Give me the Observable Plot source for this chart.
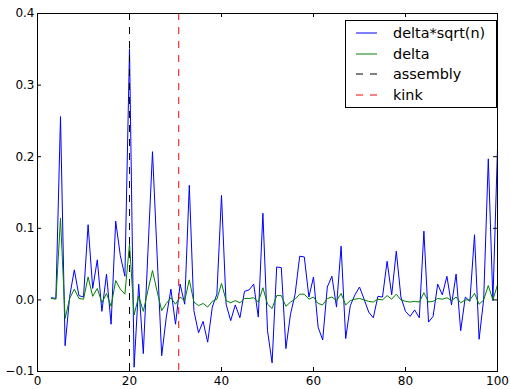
<!DOCTYPE html>
<html><head><meta charset="utf-8">
<script src="https://cdn.jsdelivr.net/npm/d3@7"></script>
<script src="https://cdn.jsdelivr.net/npm/@observablehq/plot@0.6"></script>
<style>body{margin:0;background:#fff} #chart{width:510px;height:389px}</style>
</head><body><div id="chart"></div>
<script>
// sample index n = 3 .. 100
const nValues = d3.range(3, 101);
const deltaSqrtN = [
  0.003, 0.002, 0.256, -0.064, 0.005, 0.042, 0.006, 0.004, 0.105, 0.016,
  0.056, -0.016, 0.036, -0.034, 0.110, 0.062, 0.033, 0.351, -0.094, 0.022,
  -0.075, 0.066, 0.207, 0.063, -0.078, -0.024, 0.015, -0.034, 0.022, -0.006,
  0.160, -0.015, -0.046, -0.030, -0.059, -0.010, 0.008, 0.146, -0.006, -0.029,
  -0.007, -0.025, 0.012, 0.014, 0.022, -0.024, 0.121, -0.043, -0.088, 0.046,
  0.045, -0.068, -0.020, 0.008, 0.061, 0.060, 0.004, 0.032, -0.038, -0.056,
  0.018, 0.033, -0.010, 0.075, -0.054, -0.008, 0.007, 0.018, 0.001, -0.017,
  -0.025, 0.005, 0.004, 0.054, 0.007, 0.068, 0.004, -0.016, -0.023, -0.014,
  -0.025, 0.096, -0.031, -0.023, 0.022, 0.007, 0.033, -0.007, 0.036, -0.043,
  0.004, -0.002, 0.091, -0.055, 0.001, 0.197, -0.001, 0.211
];
const delta = [
  0.002, 0.001, 0.114, -0.026, 0.002, 0.015, 0.002, 0.001, 0.032, 0.005,
  0.016, -0.004, 0.009, -0.009, 0.027, 0.015, 0.008, 0.078, -0.021, 0.005,
  -0.016, 0.013, 0.041, 0.012, -0.015, -0.005, 0.003, -0.006, 0.004, -0.001,
  0.028, -0.003, -0.008, -0.005, -0.010, -0.002, 0.001, 0.023, -0.001, -0.004,
  -0.001, -0.004, 0.002, 0.002, 0.003, -0.003, 0.017, -0.006, -0.012, 0.006,
  0.006, -0.009, -0.003, 0.001, 0.008, 0.008, 0.001, 0.004, -0.005, -0.007,
  0.002, 0.004, -0.001, 0.009, -0.007, -0.001, 0.001, 0.002, 0.000, -0.002,
  -0.003, 0.001, 0.000, 0.006, 0.001, 0.008, 0.000, -0.002, -0.003, -0.002,
  -0.003, 0.010, -0.003, -0.002, 0.002, 0.001, 0.003, -0.001, 0.004, -0.004,
  0.000, 0.000, 0.009, -0.006, 0.000, 0.020, 0.000, 0.021
];
const assemblyX = [20];
const kinkX = [30.7];
const xTicks = [0, 20, 40, 60, 80, 100];
const yTicks = [-0.1, 0.0, 0.1, 0.2, 0.3, 0.4];
const legendLabels = ["delta*sqrt(n)", "delta", "assembly", "kink"];
const legendColors = ["#0000ff", "#008000", "#000000", "#ff0000"];
const legendDashed = [false, false, true, true];

const W = 510, H = 389, mL = 37, mR = 13, mT = 13, mB = 18;
const innerW = W - mL - mR, innerH = H - mT - mB;
const rows = nValues.map((k, i) => ({n: k, a: deltaSqrtN[i], d: delta[i]}));

const plot = Plot.plot({
  width: W, height: H,
  marginLeft: mL, marginRight: mR, marginTop: mT, marginBottom: mB,
  style: {fontFamily: "DejaVu Sans", fontSize: "12px", background: "white", color: "black"},
  x: {domain: [0, 100]},
  y: {domain: [-0.1, 0.4]},
  marks: [
    Plot.line(rows, {x: "n", y: "a", stroke: legendColors[0], strokeWidth: 1, strokeLinejoin: "round"}),
    Plot.line(rows, {x: "n", y: "d", stroke: legendColors[1], strokeWidth: 1, strokeLinejoin: "round"}),
    Plot.ruleX(assemblyX, {stroke: legendColors[2], strokeDasharray: "7,7"}),
    Plot.ruleX(kinkX, {stroke: legendColors[3], strokeDasharray: "7,7"}),
    Plot.frame({stroke: "black"}),
    Plot.ruleX(xTicks, {stroke: "black", insetTop: innerH - 4}),
    Plot.ruleX(xTicks, {stroke: "black", insetBottom: innerH - 4}),
    Plot.ruleY(yTicks, {stroke: "black", insetRight: innerW - 4}),
    Plot.ruleY(yTicks, {stroke: "black", insetLeft: innerW - 4}),
    Plot.axisX({ticks: xTicks, tickSize: 0, tickPadding: 5, label: null, tickFormat: d => String(d)}),
    Plot.axisY({ticks: yTicks, tickSize: 0, tickPadding: 3, label: null, tickFormat: d3.format(".1f")})
  ]
});
document.getElementById("chart").appendChild(plot);

// legend
const svg = d3.select(plot);
const lg = svg.append("g").attr("font-family", "DejaVu Sans").attr("font-size", "14.4px")
  .attr("text-anchor", "start");
lg.append("rect").attr("x", 345.5).attr("y", 20.5).attr("width", 151).attr("height", 87)
  .attr("fill", "white").attr("stroke", "black");
legendLabels.forEach((lab, i) => {
  const y = 33 + i * 20.5;
  lg.append("line").attr("x1", 356).attr("x2", 377).attr("y1", Math.round(y)).attr("y2", Math.round(y))
    .attr("stroke", legendColors[i]).attr("stroke-width", 1)
    .attr("stroke-dasharray", legendDashed[i] ? "7,7" : null);
  lg.append("text").attr("x", 393).attr("y", y).attr("dy", "0.35em")
    .attr("text-anchor", "start").attr("fill", "black").text(lab);
});
</script>
</body></html>
